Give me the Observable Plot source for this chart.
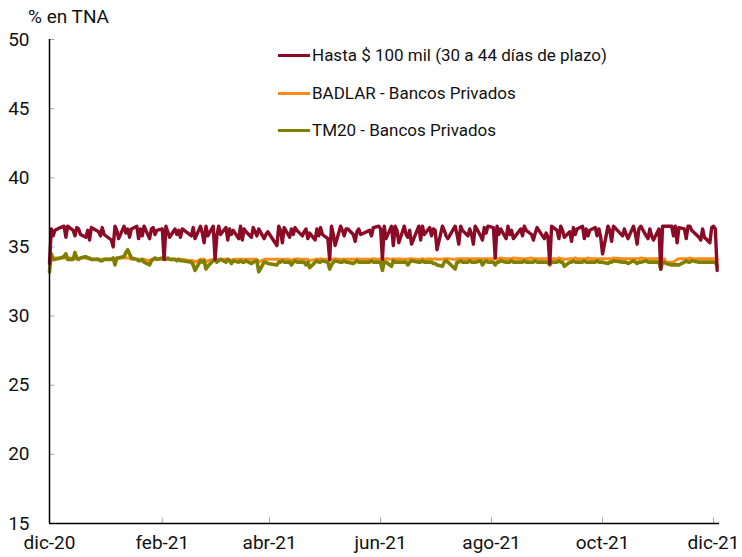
<!DOCTYPE html>
<html><head><meta charset="utf-8">
<script src="https://cdn.jsdelivr.net/npm/d3@7"></script>
<script src="https://cdn.jsdelivr.net/npm/@observablehq/plot@0.6"></script>
<style>
body{margin:0;background:#fff;font-family:Roboto,"Noto Sans",sans-serif;}
#wrap{position:relative;width:742px;height:557px;overflow:hidden;}
#wrap svg{position:absolute;left:0;top:0;}
.title{position:absolute;left:28px;top:5px;font-size:19px;color:#111;}
.legend{position:absolute;left:278px;top:0;font-size:17px;color:#111;}
.item{position:absolute;left:0;display:flex;align-items:center;white-space:nowrap;height:20px;}
.sw{display:inline-block;width:32px;height:3px;margin-right:2px;}
</style></head><body><div id="wrap"></div>
<script>
// Series (business days from 2020-12-01 to 2021-12-03), % TNA
const seriesNames = ["Hasta $ 100 mil (30 a 44 días de plazo)", "BADLAR - Bancos Privados", "TM20 - Bancos Privados"];
const seriesColors = ["#8b0a26", "#ff8c1a", "#7f8000"];
const holidays = ["2020-12-08","2020-12-25","2021-01-01","2021-02-15","2021-02-16","2021-03-24","2021-04-01","2021-04-02","2021-05-24","2021-05-25","2021-06-21","2021-07-09","2021-08-16","2021-10-08","2021-10-11","2021-11-22"];
const hasta = [
33.8,36.3,35.8,36.2,36.4,36.5,35.7,36.5,36.2,35.8,36.4,36.3,35.9,35.7,36.2,35.5,36.4,36.1,35.8,36.4,35.9,
35.5,35.0,36.5,36.2,35.6,36.5,36.0,36.3,35.7,36.3,36.5,35.6,36.3,35.8,36.5,35.6,36.3,36.4,35.9,36.2,
36.3,34.1,36.5,36.1,35.7,36.3,35.9,36.2,35.7,36.3,35.8,36.4,35.6,36.5,36.0,35.3,36.5,35.8,
36.5,34.1,35.8,36.5,35.9,36.4,35.5,36.3,35.9,36.2,35.6,36.5,35.5,36.3,36.1,35.7,36.4,35.8,36.3,35.6,35.9,36.1,
35.1,36.5,36.2,35.3,36.4,35.7,36.3,35.9,36.4,36.2,35.8,36.1,36.3,35.6,36.0,35.5,36.3,35.8,36.4,35.9,
35.6,34.1,36.5,35.9,35.1,36.5,36.2,35.8,36.3,36.3,35.9,35.4,36.1,36.3,35.9,36.2,35.8,36.4,36.5,
36.3,34.1,36.5,35.6,36.5,35.1,36.5,36.2,35.3,36.5,35.9,35.7,36.2,35.2,36.5,35.5,36.5,35.9,36.4,35.8,36.3,
36.2,34.8,36.5,36.2,35.8,35.6,36.5,35.9,35.2,36.5,36.2,35.8,36.3,35.9,35.2,36.5,35.8,35.5,36.4,36.0,36.5,
36.4,34.2,36.5,35.9,36.3,35.6,36.5,35.9,36.2,35.6,36.3,35.8,36.5,36.2,35.9,35.5,36.0,36.4,36.2,35.6,36.0,
35.7,33.8,36.5,36.2,35.6,36.5,36.2,35.7,36.1,35.4,36.4,35.9,36.3,36.5,35.6,36.3,35.8,36.2,36.4,35.8,36.3,35.7,
34.5,36.5,36.2,35.4,36.5,35.8,36.3,35.9,35.6,36.5,36.0,35.2,36.3,36.5,35.8,35.6,36.3,35.8,35.5,
36.3,33.4,36.5,36.5,36.5,36.5,35.8,36.5,35.3,36.4,36.3,35.6,36.5,36.5,36.2,35.7,35.5,36.3,35.7,35.3,36.4,
36.5,36.3,33.3];
const badlar = [
34.2,34.2,34.2,34.2,34.2,34.2,34.2,34.2,34.2,34.2,34.1,34.1,34.2,34.2,34.2,34.1,34.1,34.1,34.1,34.1,34.1,
34.1,34.1,34.1,34.1,34.2,34.2,34.2,34.2,34.2,34.1,34.1,34.1,34.1,34.1,34.1,34.0,34.1,34.1,34.1,34.1,
34.1,34.1,34.1,34.1,34.1,34.1,34.1,34.1,34.1,34.1,34.0,34.0,33.9,34.1,34.1,34.1,33.9,34.0,
34.1,34.1,34.1,34.1,34.1,34.1,34.1,34.1,34.0,34.1,34.1,34.1,34.1,34.1,34.1,34.1,34.1,34.1,33.9,34.1,34.1,34.1,
34.1,34.1,34.1,34.1,34.1,34.1,34.0,34.1,34.1,34.15,34.1,34.1,34.1,34.1,34.0,34.1,34.1,34.1,34.15,34.1,
34.1,34.0,34.1,34.1,34.15,34.1,34.1,34.1,34.1,34.1,34.1,34.1,34.15,34.1,34.1,34.1,34.1,34.15,34.1,
34.15,34.05,34.1,34.15,34.1,34.15,34.1,34.1,34.15,34.1,34.1,34.1,34.15,34.15,34.1,34.1,34.15,34.1,34.15,34.1,34.1,
34.15,34.1,34.1,34.15,34.15,34.15,34.1,34.15,34.15,34.15,34.15,34.15,34.15,34.15,34.15,34.15,34.15,34.1,34.15,34.15,34.15,
34.15,34.15,34.15,34.15,34.2,34.15,34.15,34.15,34.15,34.2,34.15,34.15,34.15,34.15,34.2,34.15,34.15,34.15,34.15,34.15,34.15,
34.15,34.1,34.15,34.15,34.2,34.15,34.15,34.1,34.15,34.15,34.15,34.2,34.15,34.15,34.15,34.15,34.2,34.15,34.15,34.15,34.15,34.15,
34.15,34.15,34.15,34.15,34.2,34.15,34.15,34.15,34.15,34.15,34.15,34.15,34.15,34.2,34.15,34.15,34.15,34.15,34.15,
34.15,34.15,34.15,34.15,33.9,33.9,33.9,34.0,34.1,34.15,34.15,34.15,34.15,34.2,34.15,34.15,34.15,34.15,34.15,34.15,34.15,
34.15,34.15,34.1];
const tm20 = [
33.2,34.5,34.1,34.1,34.2,34.3,34.5,34.1,34.1,34.6,34.2,34.1,34.2,34.3,34.2,34.2,34.1,34.1,34.0,34.0,34.1,
34.1,34.2,33.7,34.2,34.2,34.3,34.6,34.8,34.5,34.2,34.1,34.0,34.0,34.1,33.9,33.7,34.0,34.1,34.2,34.1,
34.2,34.1,34.1,34.2,34.1,34.1,34.0,34.1,34.0,34.0,33.9,33.7,33.3,34.0,33.9,34.0,33.4,33.6,
34.0,34.1,33.9,34.0,34.1,33.9,34.1,34.0,33.8,34.0,33.9,34.0,33.9,33.9,34.0,33.8,33.9,34.0,33.2,33.9,33.9,33.8,
33.7,33.9,33.9,34.0,33.9,33.9,33.7,33.9,34.0,33.9,33.9,33.9,33.7,33.9,33.5,33.9,34.0,33.9,33.9,34.0,
33.9,33.4,33.7,33.9,34.0,33.9,33.9,34.0,33.9,33.9,33.8,33.9,34.0,33.9,33.9,33.9,34.0,33.9,33.9,
33.9,33.3,33.9,33.9,33.6,34.0,33.9,33.9,33.9,33.9,33.9,33.7,33.9,34.0,33.9,33.9,34.0,33.9,33.9,33.9,33.8,
33.8,33.7,33.6,33.9,34.0,33.9,33.4,33.9,33.9,34.0,33.9,33.9,34.0,33.9,33.9,33.9,34.0,33.7,33.9,34.0,33.9,
33.9,33.7,33.9,33.9,34.0,33.9,33.9,33.9,34.0,33.9,33.9,33.9,34.0,33.9,33.9,33.9,34.0,33.9,33.9,33.9,33.9,
33.9,33.7,33.9,33.9,34.0,33.9,33.9,33.6,33.9,33.9,34.0,33.9,33.9,33.9,34.0,33.9,33.9,33.9,33.9,34.0,33.9,33.9,
33.9,33.8,33.9,33.9,34.0,33.9,33.9,33.9,33.8,34.0,33.9,33.8,33.9,33.9,34.0,33.9,33.9,33.9,33.9,
33.9,33.4,33.9,33.9,33.8,33.7,33.7,33.7,33.7,33.7,33.9,34.0,33.9,33.9,34.0,33.9,33.9,33.9,33.9,33.9,33.9,
33.9,33.9,33.6];
const yTicks = [15,20,25,30,35,40,45,50];
const xTickDates = ["2020-12-01","2021-02-01","2021-04-01","2021-06-01","2021-08-01","2021-10-01","2021-12-01"];
const xTickLabels = ["dic-20","feb-21","abr-21","jun-21","ago-21","oct-21","dic-21"];

const parse = s => new Date(s + "T00:00:00Z");
const start = parse("2020-12-01"), last = parse("2021-12-03");
const hol = new Set(holidays);
const days = d3.utcDay.range(start, d3.utcDay.offset(last, 1))
  .filter(d => d.getUTCDay() !== 0 && d.getUTCDay() !== 6 && !hol.has(d.toISOString().slice(0,10)));
const mk = (vals, name) => vals.slice(0, days.length).map((v, i) => ({date: days[i], value: v, name}));
const rows = [...mk(badlar, seriesNames[1]), ...mk(tm20, seriesNames[2]), ...mk(hasta, seriesNames[0])];
const tickDates = xTickDates.map(parse);
const labelOf = new Map(tickDates.map((d, i) => [+d, xTickLabels[i]]));
const xEnd = new Date(Date.UTC(2021, 11, 4, 7));
const widths = {[seriesNames[0]]: 3.4, [seriesNames[1]]: 3, [seriesNames[2]]: 3.6};

const chart = Plot.plot({
  width: 742, height: 557,
  marginLeft: 49, marginRight: 23, marginTop: 39, marginBottom: 34,
  style: {fontFamily: "Roboto, sans-serif", background: "transparent"},
  x: {type: "utc", domain: [start, xEnd]},
  y: {domain: [15, 50]},
  color: {domain: seriesNames, range: seriesColors},
  marks: [
    Plot.ruleY(yTicks.filter(t => t > 15), {y: d => d, x1: start, x2: d3.utcDay.offset(start, 3), stroke: "#a6a6a6", strokeWidth: 1}),
    Plot.ruleX(tickDates.slice(1), {x: d => d, y1: 15, y2: 15.4, stroke: "#a6a6a6", strokeWidth: 1}),
    Plot.axisY({ticks: yTicks, tickSize: 0, tickPadding: 20, fontSize: 19, fill: "#111", label: null}),
    Plot.axisX({ticks: tickDates, tickSize: 0, tickPadding: 12, fontSize: 19, fill: "#111", label: null, tickFormat: d => labelOf.get(+d)}),
    ...seriesNames.slice(1).concat(seriesNames.slice(0,1)).map(n =>
      Plot.line(rows.filter(r => r.name === n), {x: "date", y: "value", stroke: "name", strokeWidth: widths[n], strokeLinejoin: "round"})),
    Plot.ruleX([start], {stroke: "#000", strokeWidth: 1.5}),
    Plot.ruleY([15], {stroke: "#000", strokeWidth: 1.5})
  ]
});
const wrap = document.getElementById("wrap");
wrap.appendChild(chart);
const t = document.createElement("div");
t.className = "title"; t.textContent = "% en TNA";
wrap.appendChild(t);
const lg = document.createElement("div");
lg.className = "legend";
const rowY = [45, 83, 120];
seriesNames.forEach((n, i) => {
  const it = document.createElement("div");
  it.className = "item"; it.style.top = rowY[i] + "px";
  const sw = document.createElement("span");
  sw.className = "sw"; sw.style.background = seriesColors[i];
  const tx = document.createElement("span"); tx.textContent = n;
  it.appendChild(sw); it.appendChild(tx); lg.appendChild(it);
});
wrap.appendChild(lg);
</script></body></html>
